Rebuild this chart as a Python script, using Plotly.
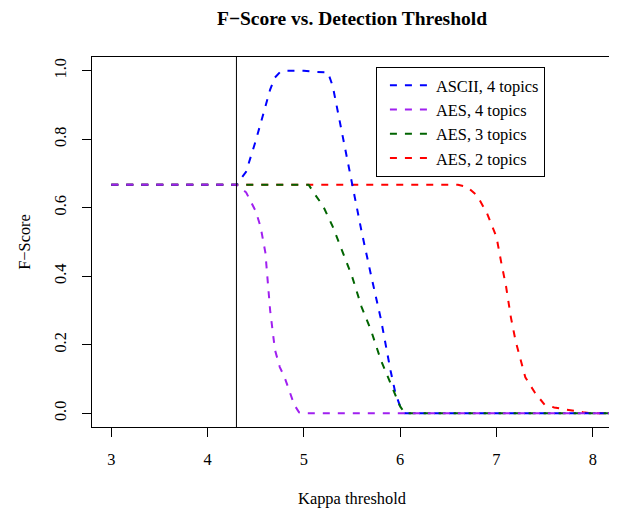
import plotly.graph_objects as go

# ---- data ----
threshold = 4.3

ascii4_x = [3.0, 4.3, 4.4, 4.5, 4.6, 4.65, 4.7, 4.75, 4.8, 5.0, 5.1, 5.25, 5.3, 5.4, 5.5, 5.6, 5.7, 5.8, 5.9, 5.95, 6.0, 6.05, 8.2]
ascii4_y = [0.667, 0.667, 0.705, 0.795, 0.895, 0.945, 0.98, 0.995, 1.0, 1.0, 0.997, 0.995, 0.955, 0.81, 0.665, 0.53, 0.40, 0.275, 0.125, 0.06, 0.02, 0.0, 0.0]

aes4_x = [3.0, 4.3, 4.4, 4.5, 4.55, 4.6, 4.65, 4.7, 4.75, 4.8, 4.85, 4.9, 4.95, 5.0, 8.2]
aes4_y = [0.667, 0.667, 0.645, 0.59, 0.545, 0.47, 0.30, 0.185, 0.135, 0.105, 0.065, 0.025, 0.003, 0.0, 0.0]

aes3_x = [3.0, 5.05, 5.1, 5.2, 5.3, 5.4, 5.5, 5.6, 5.7, 5.8, 5.9, 6.0, 6.05, 8.2]
aes3_y = [0.667, 0.667, 0.645, 0.605, 0.545, 0.475, 0.40, 0.31, 0.24, 0.155, 0.085, 0.02, 0.0, 0.0]

aes2_x = [3.0, 6.6, 6.7, 6.8, 6.9, 7.0, 7.05, 7.1, 7.15, 7.2, 7.3, 7.4, 7.5, 7.6, 7.7, 7.8, 7.9, 8.0, 8.2]
aes2_y = [0.667, 0.667, 0.66, 0.635, 0.585, 0.515, 0.44, 0.37, 0.28, 0.21, 0.105, 0.06, 0.025, 0.017, 0.012, 0.007, 0.003, 0.0, 0.0]

x_ticks = [3, 4, 5, 6, 7, 8]
y_ticks = [0.0, 0.2, 0.4, 0.6, 0.8, 1.0]
y_tick_labels = ["0.0", "0.2", "0.4", "0.6", "0.8", "1.0"]

FONT = "Liberation Serif, Times New Roman, serif"
FSIZE = 16.4
DASH = "7px,8px"

series = [
    # (name, x, y, color, legend rank) ; drawing order chosen so overlaps look like reference
    ("AES, 2 topics", aes2_x, aes2_y, "#FF0000", 4),
    ("ASCII, 4 topics", ascii4_x, ascii4_y, "#0000FF", 1),
    ("AES, 3 topics", aes3_x, aes3_y, "#006400", 3),
    ("AES, 4 topics", aes4_x, aes4_y, "#A020F0", 2),
]

fig = go.Figure()
for name, xs, ys, color, rank in series:
    fig.add_trace(go.Scatter(
        x=xs, y=ys, mode="lines", name=name, legendrank=rank,
        line=dict(color=color, width=2, dash=DASH),
    ))

fig.add_shape(type="line", xref="x", yref="paper", x0=threshold, x1=threshold,
              y0=0, y1=1, line=dict(color="black", width=1))

# the page body has an 8px margin, so the figure is 8px smaller than the window
fig.update_layout(
    width=609, height=500,
    margin=dict(l=84, r=5, t=49, b=81, autoexpand=False),
    paper_bgcolor="white", plot_bgcolor="white",
    font=dict(family=FONT, size=FSIZE, color="black"),
    title=dict(text="<b>F\u2212Score vs. Detection Threshold</b>",
               x=0.5, xref="paper", xanchor="center",
               y=0.98, yref="container", yanchor="middle",
               font=dict(family=FONT, size=19.5, color="black")),
    showlegend=True,
    legend=dict(x=0.546, y=0.973, xanchor="left", yanchor="top",
                bordercolor="black", borderwidth=1, bgcolor="white",
                font=dict(family=FONT, size=FSIZE, color="black"),
                tracegroupgap=0, itemwidth=41, indentation=8),
    xaxis=dict(range=[2.8, 8.2], tickvals=x_ticks, ticks="outside", ticklen=9,
               tickcolor="black", tickwidth=1, showline=True, linecolor="black",
               linewidth=1, mirror=True, showgrid=False, zeroline=False,
               automargin=False, ticklabelstandoff=8,
               tickfont=dict(family=FONT, size=FSIZE, color="black"),
               title=dict(text="Kappa threshold", standoff=25,
                          font=dict(family=FONT, size=FSIZE, color="black"))),
    yaxis=dict(range=[-0.04, 1.04], tickvals=y_ticks, ticktext=y_tick_labels,
               tickangle=-90, ticks="outside", ticklen=9,
               tickcolor="black", tickwidth=1, showline=True, linecolor="black",
               linewidth=1, mirror=True, showgrid=False, zeroline=False,
               automargin=False, ticklabelstandoff=9,
               tickfont=dict(family=FONT, size=FSIZE, color="black"),
               title=dict(text="F\u2212Score", standoff=16,
                          font=dict(family=FONT, size=FSIZE, color="black"))),
)

fig.write_html("out.html")
